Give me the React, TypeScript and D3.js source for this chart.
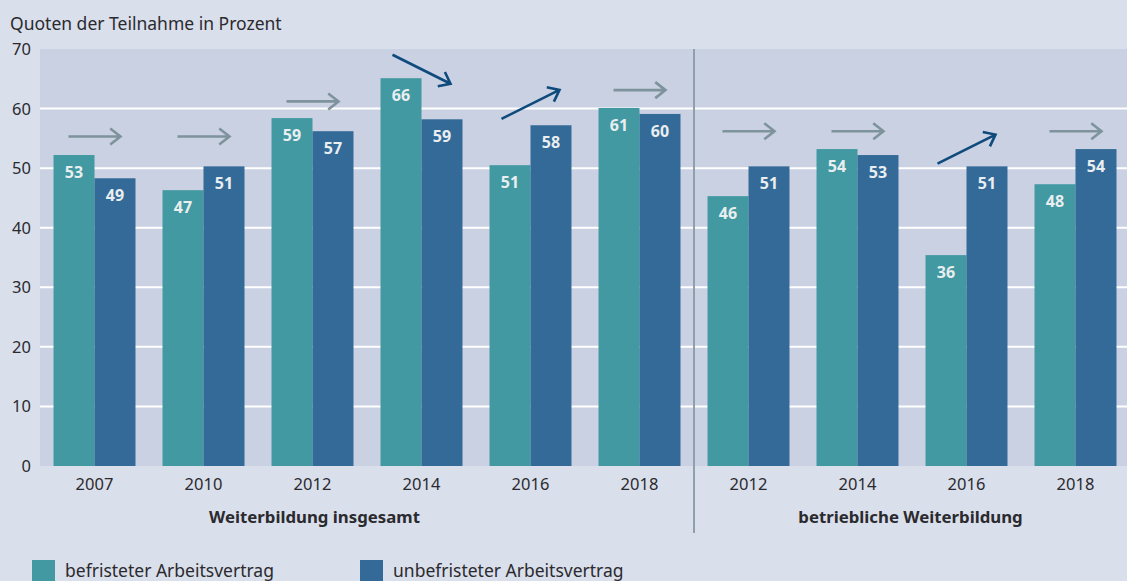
import React, { useEffect, useRef } from "react";
import * as d3 from "d3";

// categories: two groups of survey years
const categories = ["g1-2007", "g1-2010", "g1-2012", "g1-2014", "g1-2016", "g1-2018", "g2-2012", "g2-2014", "g2-2016", "g2-2018"];
const yearLabels = ["2007", "2010", "2012", "2014", "2016", "2018", "2012", "2014", "2016", "2018"];
const groupLabels = ["Weiterbildung insgesamt", "betriebliche Weiterbildung"];

// bar heights as drawn
const befristet = [52.2, 46.3, 58.4, 65.1, 50.5, 60.1, 45.3, 53.2, 35.4, 47.3];
const unbefristet = [48.3, 50.3, 56.2, 58.2, 57.2, 59.1, 50.3, 52.2, 50.3, 53.2];
// printed value labels
const befristetLabels = [53, 47, 59, 66, 51, 61, 46, 54, 36, 48];
const unbefristetLabels = [49, 51, 57, 59, 58, 60, 51, 53, 51, 54];

// trend arrows: direction and vertical position (in percent units)
const trend = ["flat", "flat", "flat", "down", "up", "flat", "flat", "flat", "up", "flat"];
const trendLevel = [55.3, 55.3, 61.2, 66.6, 60.7, 63.1, 56.2, 56.2, 53.2, 56.2];

const yTicks = [0, 10, 20, 30, 40, 50, 60, 70];
const seriesNames = ["befristeter Arbeitsvertrag", "unbefristeter Arbeitsvertrag"];

const colors = {
  page: "#d9dfeb",
  plot: "#c9d1e3",
  teal: "#4299a1",
  blue: "#336a98",
  text: "#2b2a2e",
  grey: "#7e939c",
  navy: "#0e4a7c",
  divider: "#909fac",
};

const App = () => {
  const svgRef = useRef<SVGSVGElement>(null);

  useEffect(() => {
    const svg = d3.select(svgRef.current);
    svg.selectAll("*").remove();

    const width = 1127;
    const height = 581;
    const font = "'Noto Sans', sans-serif";

    const x = d3
      .scaleBand()
      .domain(categories)
      .range([40, 1130])
      .paddingInner(0.248)
      .paddingOuter(0.124);

    const xs = d3
      .scaleBand()
      .domain(["b", "u"])
      .range([0, x.bandwidth()]);

    const y = d3.scaleLinear().domain([0, 70]).range([466, 49]);

    svg.append("rect").attr("width", width).attr("height", height).attr("fill", colors.page);

    // plot background
    svg
      .append("rect")
      .attr("x", 40)
      .attr("y", y(70))
      .attr("width", width - 40)
      .attr("height", y(0) - y(70))
      .attr("fill", colors.plot);

    // gridlines
    svg
      .selectAll(".grid")
      .data(yTicks.filter((t) => t > 0 && t < 70))
      .join("line")
      .attr("x1", 40)
      .attr("x2", width)
      .attr("y1", (d) => y(d))
      .attr("y2", (d) => y(d))
      .attr("stroke", "#ffffff")
      .attr("stroke-width", 2);

    // y tick labels
    svg
      .selectAll(".ytick")
      .data(yTicks)
      .join("text")
      .attr("x", 31)
      .attr("y", (d) => y(d) + 6)
      .attr("text-anchor", "end")
      .attr("font-family", font)
      .attr("font-size", 16.5)
      .attr("fill", colors.text)
      .text((d) => d);

    // title
    svg
      .append("text")
      .attr("x", 10)
      .attr("y", 30)
      .attr("font-family", font)
      .attr("font-size", 17.5)
      .attr("fill", colors.text)
      .text("Quoten der Teilnahme in Prozent");

    // bars
    const groups = svg
      .selectAll(".cat")
      .data(categories)
      .join("g")
      .attr("transform", (d) => `translate(${x(d)},0)`);

    groups
      .append("rect")
      .attr("x", xs("b")!)
      .attr("width", xs.bandwidth())
      .attr("y", (d, i) => y(befristet[i]))
      .attr("height", (d, i) => y(0) - y(befristet[i]))
      .attr("fill", colors.teal);

    groups
      .append("rect")
      .attr("x", xs("u")!)
      .attr("width", xs.bandwidth())
      .attr("y", (d, i) => y(unbefristet[i]))
      .attr("height", (d, i) => y(0) - y(unbefristet[i]))
      .attr("fill", colors.blue);

    // value labels
    groups
      .append("text")
      .attr("x", xs("b")! + xs.bandwidth() / 2)
      .attr("y", (d, i) => y(befristet[i]) + 23)
      .attr("text-anchor", "middle")
      .attr("font-family", font)
      .attr("font-weight", "bold")
      .attr("font-size", 16)
      .attr("fill", "#e9eef0")
      .text((d, i) => befristetLabels[i]);

    groups
      .append("text")
      .attr("x", xs("u")! + xs.bandwidth() / 2)
      .attr("y", (d, i) => y(unbefristet[i]) + 23)
      .attr("text-anchor", "middle")
      .attr("font-family", font)
      .attr("font-weight", "bold")
      .attr("font-size", 16)
      .attr("fill", "#e9eef0")
      .text((d, i) => unbefristetLabels[i]);

    // year labels
    groups
      .append("text")
      .attr("x", x.bandwidth() / 2)
      .attr("y", 490)
      .attr("text-anchor", "middle")
      .attr("font-family", font)
      .attr("font-size", 16.5)
      .attr("fill", colors.text)
      .text((d, i) => yearLabels[i]);

    // trend arrows
    const drawArrow = (g: any, x1: number, y1: number, x2: number, y2: number, color: string) => {
      const ang = Math.atan2(y2 - y1, x2 - x1);
      const head = 13;
      const spread = (38 * Math.PI) / 180;
      const p = d3.path();
      p.moveTo(x1, y1);
      p.lineTo(x2, y2);
      p.moveTo(x2 - head * Math.cos(ang - spread), y2 - head * Math.sin(ang - spread));
      p.lineTo(x2, y2);
      p.lineTo(x2 - head * Math.cos(ang + spread), y2 - head * Math.sin(ang + spread));
      g.append("path")
        .attr("d", p.toString())
        .attr("fill", "none")
        .attr("stroke", color)
        .attr("stroke-width", 2.6)
        .attr("stroke-linecap", "butt")
        .attr("stroke-linejoin", "miter");
    };

    groups.each(function (d, i) {
      const g = d3.select(this as SVGGElement);
      const cx = x.bandwidth() / 2;
      const cy = y(trendLevel[i]);
      if (trend[i] === "flat") {
        drawArrow(g, cx - 26, cy, cx + 26, cy, colors.grey);
      } else if (trend[i] === "up") {
        drawArrow(g, cx - 29, cy + 14.5, cx + 29, cy - 14.5, colors.navy);
      } else {
        drawArrow(g, cx - 29, cy - 14.5, cx + 29, cy + 14.5, colors.navy);
      }
    });

    // divider between the two groups
    const divX = x(categories[6])! - (x.step() * x.paddingInner()) / 2;
    svg
      .append("line")
      .attr("x1", divX)
      .attr("x2", divX)
      .attr("y1", y(70))
      .attr("y2", 533)
      .attr("stroke", colors.divider)
      .attr("stroke-width", 2);

    // group labels
    const g1x = x(categories[2])! + x.bandwidth() / 2 + 2;
    const g2x = (divX + width) / 2;
    svg
      .selectAll(".grouplabel")
      .data(groupLabels)
      .join("text")
      .attr("x", (d, i) => (i === 0 ? g1x : g2x))
      .attr("y", 523)
      .attr("text-anchor", "middle")
      .attr("font-family", font)
      .attr("font-weight", "bold")
      .attr("font-size", 16.8)
      .attr("fill", colors.text)
      .text((d) => d);

    // legend
    const legend = svg
      .selectAll(".legend")
      .data(seriesNames)
      .join("g")
      .attr("transform", (d, i) => `translate(${i === 0 ? 32 : 360},560)`);
    legend
      .append("rect")
      .attr("width", 23)
      .attr("height", 23)
      .attr("fill", (d, i) => (i === 0 ? colors.teal : colors.blue));
    legend
      .append("text")
      .attr("x", 33)
      .attr("y", 16.5)
      .attr("font-family", font)
      .attr("font-size", 17.5)
      .attr("fill", colors.text)
      .text((d) => d);
  }, []);

  return (
    <svg
      ref={svgRef}
      width={1127}
      height={581}
      style={{ position: "absolute", left: 0, top: 0, display: "block" }}
    ></svg>
  );
};

export default App;
